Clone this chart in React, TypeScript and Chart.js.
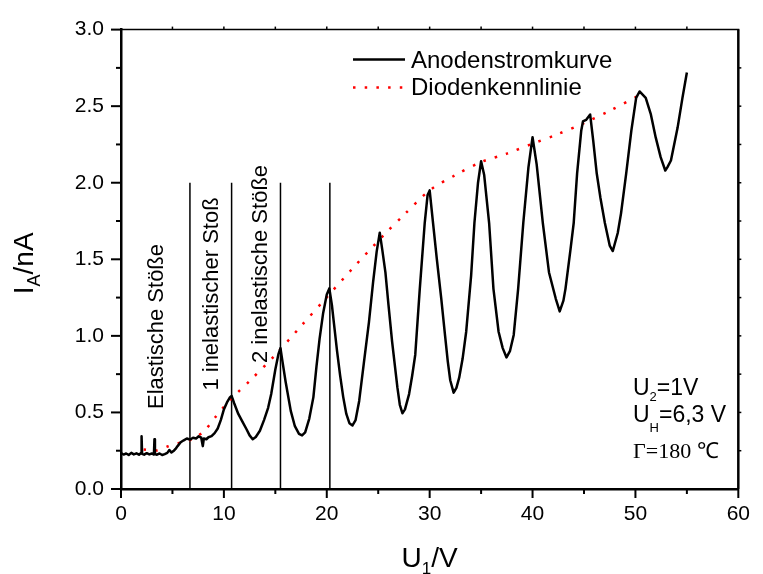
import React, { useEffect, useRef } from 'react';
import { Chart, registerables } from 'chart.js';

Chart.register(...registerables);

// ---- data ----
const anodeX = [
  0, 0.25, 0.5, 0.75, 1.0, 1.25, 1.5, 1.75, 1.95, 2.0, 2.05, 2.25, 2.5, 2.75, 3.0, 3.2, 3.25, 3.3, 3.5, 3.75,
  4.0, 4.25, 4.5, 4.7, 4.9, 5.1, 5.3, 5.5, 5.8, 6.1, 6.4, 6.7,
  7.0, 7.3, 7.55, 7.8, 7.95, 8.05, 8.3, 8.5, 8.8, 9.1, 9.4, 9.7, 10.0, 10.3, 10.6, 10.75,
  11.0, 11.4, 11.8, 12.2, 12.5, 12.8, 13.1, 13.5, 13.9, 14.3, 14.6, 15.0, 15.3, 15.5,
  15.7, 16.0, 16.5, 16.9, 17.3, 17.6, 17.9, 18.3, 18.7, 19.0, 19.3, 19.65, 20.0, 20.25,
  20.5, 20.7, 21.0, 21.3, 21.6, 21.9, 22.2, 22.5, 22.8, 23.15, 23.6, 24.1, 24.5, 24.85, 25.15,
  25.4, 25.7, 26.0, 26.35, 26.87, 27.1, 27.35, 27.6, 28.0, 28.3, 28.6, 29.04, 29.52, 29.8, 30.0,
  30.33, 30.7, 31.13, 31.5, 31.76, 32.0, 32.33, 32.6, 32.87, 33.2, 33.55, 34.03, 34.35, 34.7, 35.0,
  35.3, 35.78, 36.2, 36.7, 37.1, 37.47, 37.8, 38.17, 38.6, 39.1, 39.6, 40.0,
  40.4, 41.0, 41.6, 42.26, 42.64, 43.0, 43.2, 43.69, 44.0, 44.33, 44.73, 44.9, 45.2, 45.6,
  45.9, 46.24, 46.6, 47.03, 47.5, 47.8, 48.28, 48.6, 49.1, 49.6, 50.07, 50.4,
  51.0, 51.5, 51.97, 52.45, 52.9, 53.1, 53.45, 54.1, 54.57, 55.0,
];
const anodeY = [
  0.235, 0.225, 0.232, 0.222, 0.236, 0.226, 0.233, 0.224, 0.235, 0.345, 0.23, 0.224, 0.234, 0.226, 0.232, 0.225, 0.325, 0.228, 0.224, 0.232,
  0.222, 0.228, 0.236, 0.255, 0.238, 0.248, 0.262, 0.28, 0.305, 0.318, 0.33, 0.322,
  0.335, 0.33, 0.344, 0.335, 0.28, 0.33, 0.325, 0.338, 0.345, 0.365, 0.395, 0.45, 0.52, 0.565, 0.6, 0.608,
  0.56, 0.49, 0.44, 0.39, 0.35, 0.325, 0.34, 0.38, 0.45, 0.53, 0.62, 0.78, 0.88, 0.92,
  0.83, 0.7, 0.51, 0.41, 0.36, 0.35, 0.37, 0.46, 0.6, 0.8, 0.98, 1.15, 1.27, 1.31,
  1.2, 1.08, 0.9, 0.74, 0.6, 0.49, 0.43, 0.415, 0.45, 0.575, 0.82, 1.09, 1.35, 1.55, 1.674,
  1.56, 1.415, 1.2, 0.963, 0.66, 0.55, 0.495, 0.52, 0.62, 0.74, 0.877, 1.307, 1.737, 1.92, 1.95,
  1.737, 1.5, 1.242, 1.0, 0.834, 0.71, 0.629, 0.66, 0.727, 0.85, 1.027, 1.393, 1.737, 2.0, 2.14,
  2.05, 1.737, 1.307, 1.027, 0.92, 0.859, 0.9, 1.006, 1.307, 1.737, 2.1, 2.297,
  2.12, 1.737, 1.414, 1.242, 1.16, 1.23, 1.307, 1.565, 1.737, 2.06, 2.339, 2.4, 2.41, 2.445,
  2.274, 2.06, 1.9, 1.737, 1.59, 1.554, 1.672, 1.8, 2.06, 2.339, 2.554, 2.596,
  2.554, 2.446, 2.296, 2.167, 2.08, 2.1, 2.145, 2.36, 2.554, 2.72,
];
const diodeX = [2.2, 3.4, 4.6, 5.8, 7.0, 8.1, 9.1, 10.1, 11.3, 12.5, 15.0, 17.5, 20.0, 22.5, 25.5, 27.5, 30.0, 32.5, 35.0, 37.5, 40.0, 42.3, 45.0, 47.5, 50.2];
const diodeY = [0.258, 0.251, 0.279, 0.303, 0.328, 0.38, 0.463, 0.545, 0.628, 0.705, 0.876, 1.064, 1.252, 1.44, 1.655, 1.79, 1.95, 2.05, 2.135, 2.19, 2.255, 2.313, 2.39, 2.47, 2.565];

const collisionX = [6.7, 10.75, 15.5, 20.3];
const collisionTop = 2.0;

const legendLabels = ['Anodenstromkurve', 'Diodenkennlinie'];
const regionLabels = ['Elastische Stöße', '1 inelastischer Stoß', '2 inelastische Stöße'];

const FONT = '"Liberation Sans", Arial, Helvetica, sans-serif';
const SERIF = '"Liberation Serif", "Times New Roman", serif';

type Part = { text: string; size: number; dy?: number; family?: string };

function drawRich(ctx: CanvasRenderingContext2D, parts: Part[], x: number, y: number, align: 'left' | 'center') {
  ctx.textAlign = 'left';
  ctx.textBaseline = 'alphabetic';
  const widths = parts.map((p) => {
    ctx.font = `${p.size}px ${p.family || FONT}`;
    return ctx.measureText(p.text).width;
  });
  const total = widths.reduce((a, b) => a + b, 0);
  let cx = align === 'center' ? x - total / 2 : x;
  parts.forEach((p, i) => {
    ctx.font = `${p.size}px ${p.family || FONT}`;
    ctx.fillText(p.text, cx, y + (p.dy || 0));
    cx += widths[i];
  });
}

function line(ctx: CanvasRenderingContext2D, x1: number, y1: number, x2: number, y2: number, w: number) {
  ctx.lineWidth = w;
  ctx.beginPath();
  ctx.moveTo(x1, y1);
  ctx.lineTo(x2, y2);
  ctx.stroke();
}

const decorPlugin = {
  id: 'decor',
  afterDraw(chart: any) {
    const ctx: CanvasRenderingContext2D = chart.ctx;
    const { left, right, top, bottom } = chart.chartArea;
    const xs = chart.scales.x;
    const ys = chart.scales.y;
    ctx.save();
    ctx.strokeStyle = '#000';
    ctx.fillStyle = '#000';
    ctx.setLineDash([]);
    // frame top/right
    line(ctx, left, top, right + 1, top, 1.5);
    line(ctx, right, top, right, bottom, 2.5);
    // y ticks
    for (let i = 0; i <= 12; i++) {
      const v = i * 0.25;
      const p = ys.getPixelForValue(v);
      const major = i % 2 === 0;
      line(ctx, left - (major ? 10 : 5), p, left, p, 2);
      if (i > 0 && i < 12) line(ctx, right, p, right + 3, p, 1.5);
    }
    // x ticks
    for (let i = 0; i <= 12; i++) {
      const v = i * 5;
      const p = xs.getPixelForValue(v);
      const major = i % 2 === 0;
      line(ctx, p, bottom, p, bottom + (major ? 9 : 5), 2);
      if (i > 0 && i < 12) line(ctx, p, top, p, top - 3, 1.5);
    }

    // axis titles
    drawRich(ctx, [
      { text: 'U', size: 28 },
      { text: '1', size: 17, dy: 7 },
      { text: '/V', size: 28 },
    ], (left + right) / 2, bottom + 78, 'center');

    ctx.save();
    ctx.translate(33, (top + bottom) / 2 + 4);
    ctx.rotate(-Math.PI / 2);
    drawRich(ctx, [
      { text: 'I', size: 28 },
      { text: 'A', size: 18, dy: 7 },
      { text: '/nA', size: 28 },
    ], 0, 0, 'center');
    ctx.restore();

    // legend
    const lx = left + 232;
    ctx.strokeStyle = '#000';
    line(ctx, lx, top + 30, lx + 52, top + 30, 2.5);
    ctx.strokeStyle = '#ff0000';
    ctx.setLineDash([2.5, 9.2]);
    line(ctx, lx, top + 58, lx + 52, top + 58, 2.5);
    ctx.setLineDash([]);
    ctx.fillStyle = '#000';
    ctx.font = `24px ${FONT}`;
    ctx.textAlign = 'left';
    ctx.textBaseline = 'alphabetic';
    ctx.fillText(legendLabels[0], lx + 58, top + 38);
    ctx.fillText(legendLabels[1], lx + 58, top + 65);

    // region labels (rotated)
    const regionPos = [
      { x: 162.5, y: 326.5 },
      { x: 217.5, y: 294 },
      { x: 266.5, y: 264 },
    ];
    regionLabels.forEach((t, i) => {
      ctx.save();
      ctx.translate(regionPos[i].x, regionPos[i].y);
      ctx.rotate(-Math.PI / 2);
      ctx.font = `22px ${FONT}`;
      ctx.textAlign = 'center';
      ctx.textBaseline = 'alphabetic';
      ctx.fillText(t, 0, 0);
      ctx.restore();
    });

    // parameters
    const px = 633;
    drawRich(ctx, [
      { text: 'U', size: 23 },
      { text: '2', size: 13, dy: 6 },
      { text: '=1V', size: 23 },
    ], px, 395, 'left');
    drawRich(ctx, [
      { text: 'U', size: 23 },
      { text: 'H', size: 13, dy: 10 },
      { text: '=6,3 V', size: 23 },
    ], px, 422, 'left');
    drawRich(ctx, [
      { text: 'Γ=180 ℃', size: 22, family: SERIF },
    ], px, 458, 'left');

    ctx.restore();
  },
};

export default function App() {
  const ref = useRef<HTMLCanvasElement | null>(null);
  useEffect(() => {
    if (!ref.current) return;
    const pts = (xs: number[], ys: number[]) => xs.map((x, i) => ({ x, y: ys[i] }));
    const vLines = collisionX.map((x) => ({
      data: [{ x, y: 0 }, { x, y: collisionTop }],
      borderColor: '#000',
      borderWidth: 1.5,
      pointRadius: 0,
      fill: false,
    }));
    const chart = new Chart(ref.current, {
      type: 'line',
      data: {
        datasets: [
          {
            label: legendLabels[0],
            data: pts(anodeX, anodeY),
            borderColor: '#000',
            borderWidth: 2.5,
            pointRadius: 0,
            tension: 0,
            fill: false,
            borderJoinStyle: 'round',
          },
          {
            label: legendLabels[1],
            data: pts(diodeX, diodeY),
            borderColor: '#ff0000',
            borderWidth: 2.5,
            borderDash: [2.5, 9.2],
            pointRadius: 0,
            tension: 0.3,
            fill: false,
          },
          ...vLines,
        ] as any,
      },
      options: {
        responsive: false,
        animation: false,
        devicePixelRatio: 1,
        layout: { padding: { top: 24, right: 14, bottom: 0, left: 0 } },
        plugins: { legend: { display: false }, tooltip: { enabled: false }, title: { display: false } },
        scales: {
          x: {
            type: 'linear',
            min: 0,
            max: 60,
            grid: { display: false, drawTicks: false },
            border: { display: true, color: '#000', width: 2.5 },
            ticks: {
              stepSize: 10,
              color: '#000',
              font: { size: 21, family: FONT },
              padding: 13,
              maxRotation: 0,
              autoSkip: false,
            },
            afterFit: (s: any) => { s.height = 85; },
          },
          y: {
            type: 'linear',
            min: 0,
            max: 3,
            grid: { display: false, drawTicks: false },
            border: { display: true, color: '#000', width: 2.5 },
            ticks: {
              stepSize: 0.5,
              color: '#000',
              font: { size: 21, family: FONT },
              padding: 17,
              callback: (v: any) => Number(v).toFixed(1),
            },
            afterFit: (s: any) => { s.width = 121; },
          },
        },
      } as any,
      plugins: [decorPlugin],
    });
    return () => chart.destroy();
  }, []);
  return (
    <div style={{ position: 'fixed', left: 0, top: 0, width: 763, height: 574, background: '#fff' }}>
      <canvas ref={ref} width={763} height={574} />
    </div>
  );
}
